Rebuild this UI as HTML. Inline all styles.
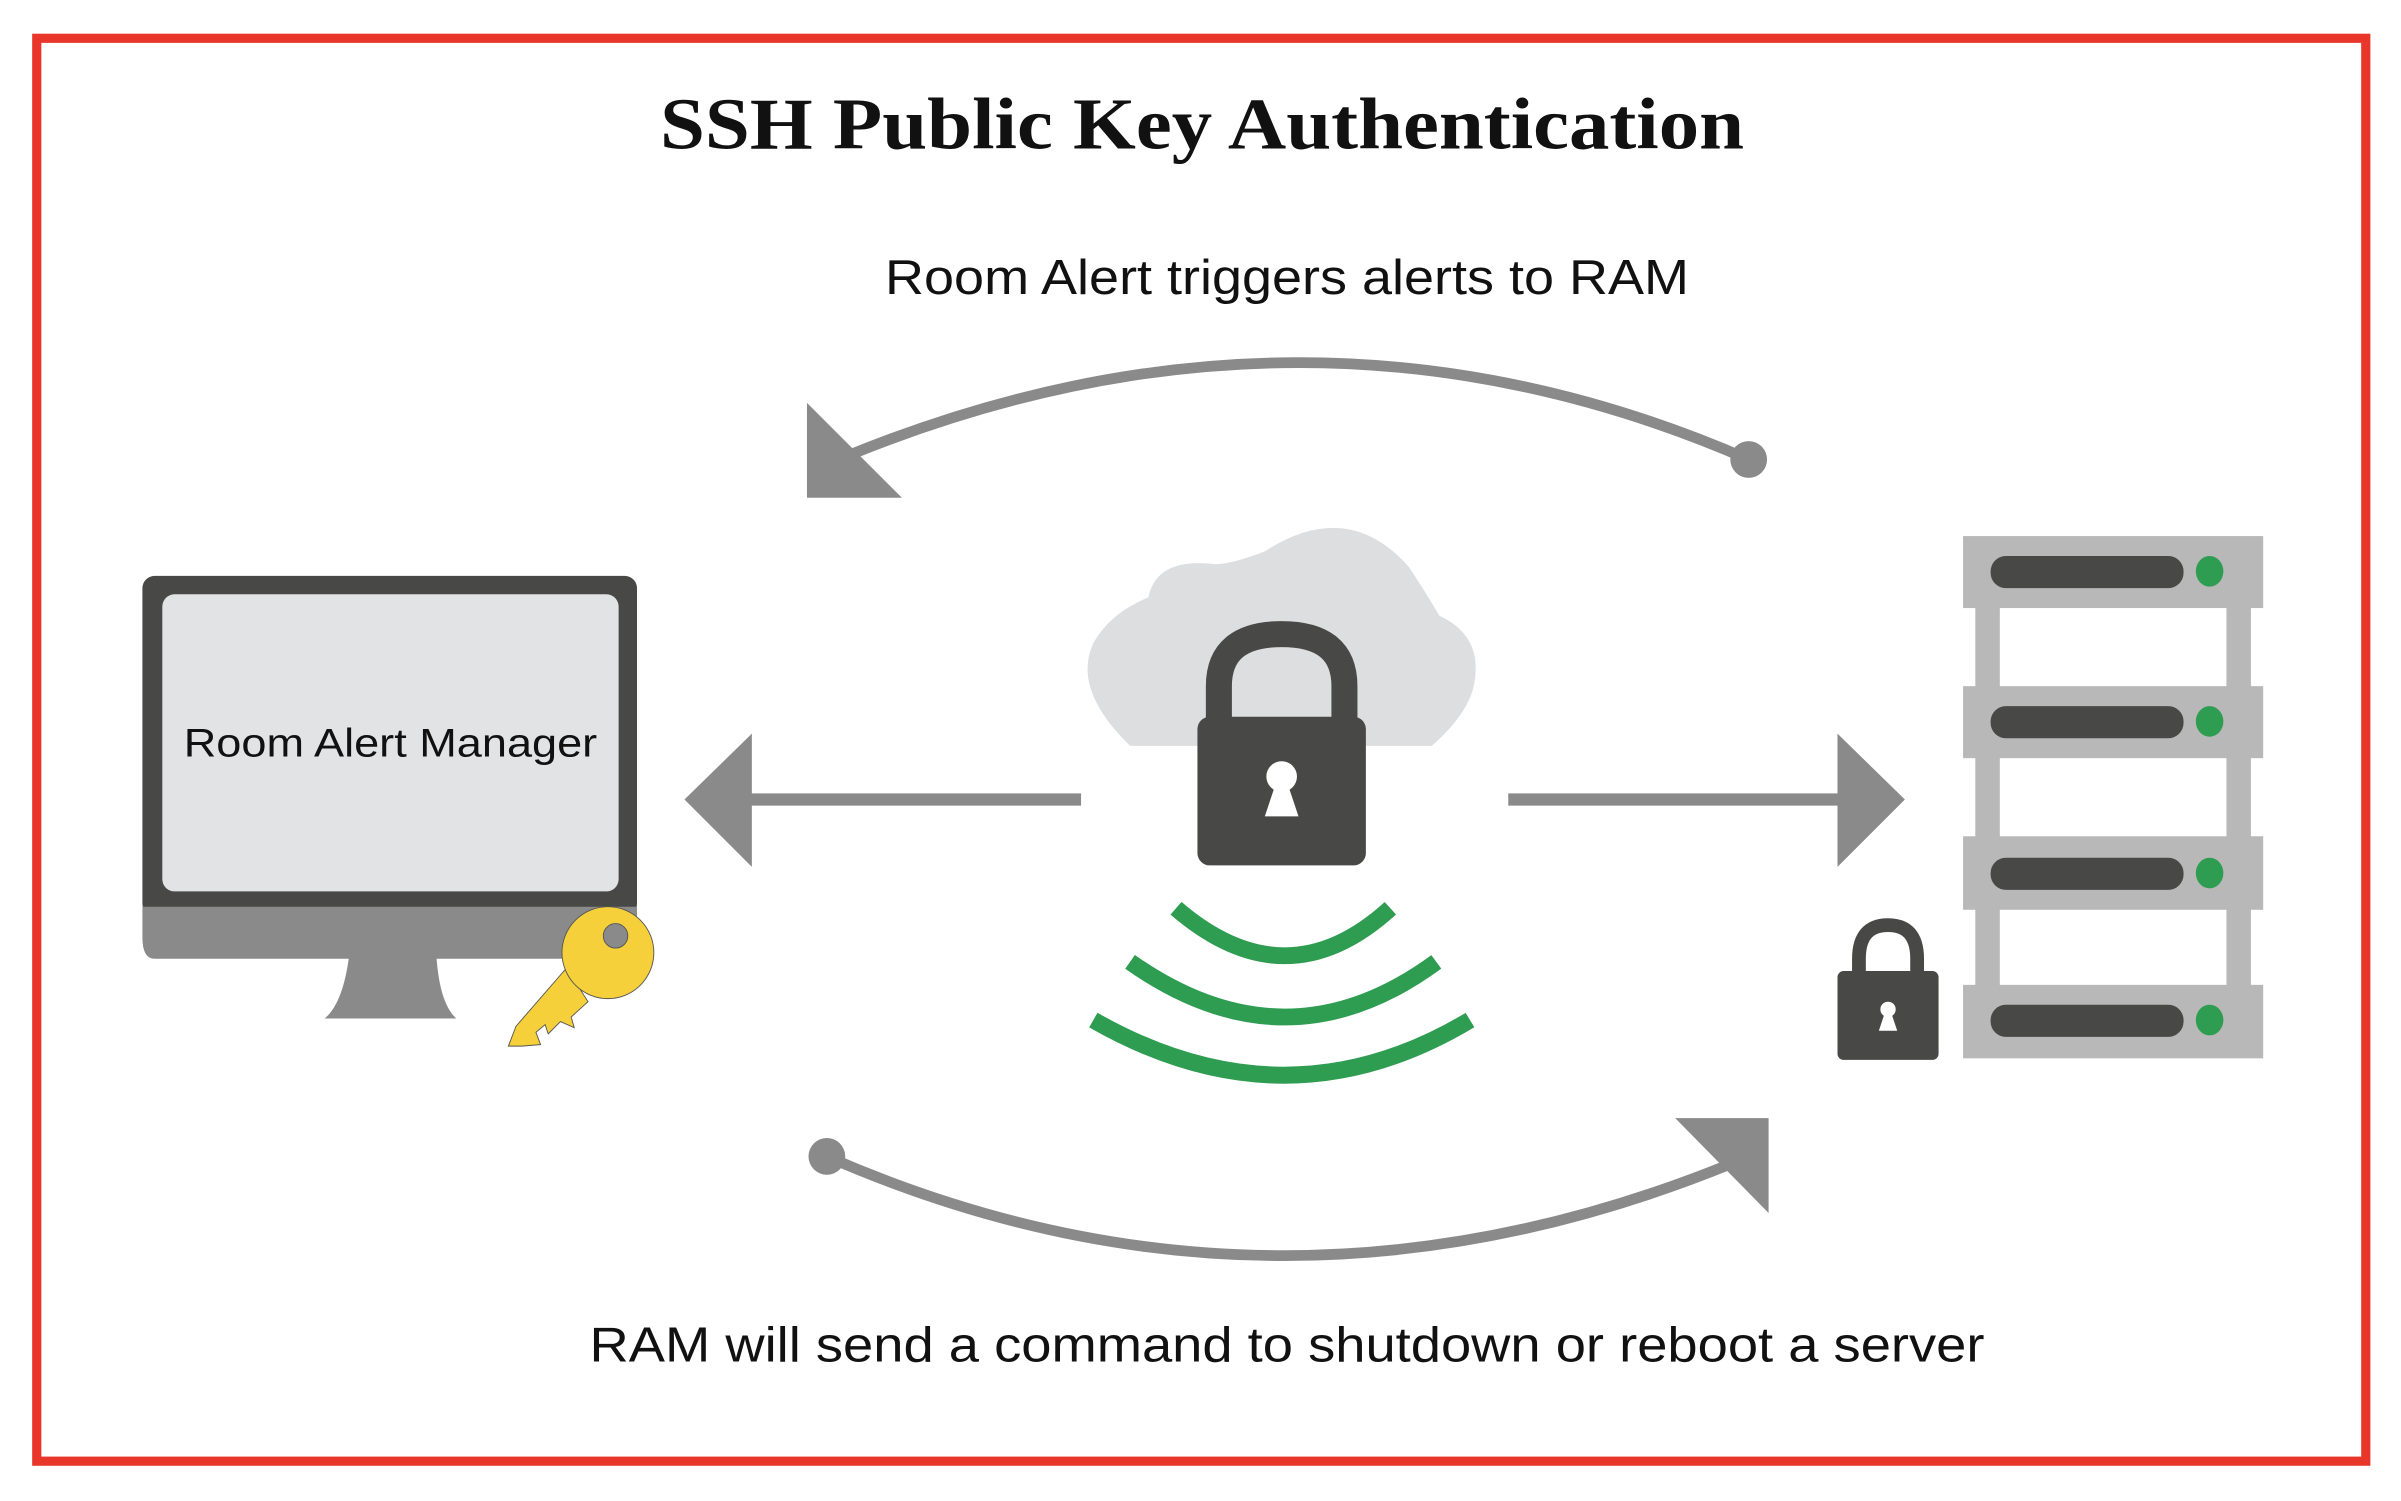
<!DOCTYPE html>
<html><head><meta charset="utf-8"><style>
html,body{margin:0;padding:0;background:#fff;}
svg{display:block;}
</style></head><body>
<svg width="2401" height="1501" viewBox="0 0 1568 980" preserveAspectRatio="none" xmlns="http://www.w3.org/2000/svg">
<rect x="0" y="0" width="1568" height="980" fill="#fff"/>
<rect x="24" y="25" width="1521" height="929" fill="none" stroke="#e8372a" stroke-width="6"/>
<text x="431" y="97" textLength="708" lengthAdjust="spacingAndGlyphs" font-family="Liberation Serif, serif" font-weight="bold" font-size="48" fill="#111">SSH Public Key Authentication</text>
<text x="578" y="192" textLength="525" lengthAdjust="spacingAndGlyphs" font-family="Liberation Sans, sans-serif" font-size="32" fill="#111">Room Alert triggers alerts to RAM</text>
<text x="385" y="889" textLength="911" lengthAdjust="spacingAndGlyphs" font-family="Liberation Sans, sans-serif" font-size="32" fill="#111">RAM will send a command to shutdown or reboot a server</text>

<!-- top arc -->
<path d="M1142 300 Q855 175 555 297" fill="none" stroke="#8a8a8a" stroke-width="7"/>
<circle cx="1142" cy="300" r="12" fill="#8a8a8a"/>
<polygon points="527,263 527,325 589,325" fill="#8a8a8a"/>
<!-- bottom arc -->
<path d="M540 755 Q830 882 1130 760" fill="none" stroke="#8a8a8a" stroke-width="7"/>
<circle cx="540" cy="755" r="12" fill="#8a8a8a"/>
<polygon points="1094,730 1155,730 1155,792" fill="#8a8a8a"/>
<!-- horizontal arrows -->
<rect x="488" y="518" width="218" height="8" fill="#8a8a8a"/>
<polygon points="447,522 491,479 491,566" fill="#8a8a8a"/>
<rect x="985" y="518" width="217" height="8" fill="#8a8a8a"/>
<polygon points="1244,522 1200,479 1200,566" fill="#8a8a8a"/>

<!-- monitor -->
<rect x="93" y="376" width="323" height="222" rx="8" fill="#484846"/>
<rect x="106" y="388" width="298" height="194" rx="8" fill="#e2e3e5"/>
<path d="M93 592 H416 V618 Q416 626 408 626 H101 Q93 626 93 612 Z" fill="#8a8a8a"/>
<path d="M228 624 H285 Q287 655 298 665 H212 Q224 655 228 624 Z" fill="#8a8a8a"/>
<text x="120" y="494" textLength="270" lengthAdjust="spacingAndGlyphs" font-family="Liberation Sans, sans-serif" font-size="26" fill="#111">Room Alert Manager</text>
<!-- key -->
<path d="M384 654 L373 664 L375 671 L366 667 L358 675 L356 669 L350 674 L353 682 L341 683 L332 683 L337 670 L370 632 Z" fill="#f5d03a" stroke="#555" stroke-width="0.6"/>
<circle cx="397" cy="622" r="30" fill="#f5d03a" stroke="#555" stroke-width="0.6"/>
<circle cx="402" cy="611" r="8" fill="#8a8a8a" stroke="#555" stroke-width="0.6"/>

<!-- cloud -->
<path d="M738 487 Q700 450 714 420 Q725 400 750 390 Q755 365 790 368 Q800 370 826 360 Q880 325 920 370 Q930 385 940 402 Q968 415 963 445 Q960 465 935 487 Z" fill="#dddee0"/>
<!-- padlock -->
<path d="M796 470 V448 Q796 414 837 414 Q878 414 878 448 V470" fill="none" stroke="#484846" stroke-width="17"/>
<rect x="782" y="468" width="110" height="97" rx="8" fill="#484846"/>
<circle cx="837" cy="507" r="10" fill="#fff"/>
<polygon points="833,512 841,512 848,533 826,533" fill="#fff"/>
<!-- waves -->
<path d="M768 593 Q840 655 908 593" fill="none" stroke="#2e9c51" stroke-width="11"/>
<path d="M738 628 Q840 700 938 628" fill="none" stroke="#2e9c51" stroke-width="11"/>
<path d="M714 666 Q840 738 960 666" fill="none" stroke="#2e9c51" stroke-width="11"/>

<!-- server rack -->
<rect x="1290" y="395" width="16" height="255" fill="#b8b8b8"/>
<rect x="1454" y="395" width="16" height="255" fill="#b8b8b8"/>
<g fill="#b8b8b8">
<rect x="1282" y="350" width="196" height="47"/>
<rect x="1282" y="448" width="196" height="47"/>
<rect x="1282" y="546" width="196" height="48"/>
<rect x="1282" y="643" width="196" height="48"/>
</g>
<g fill="#484846">
<rect x="1300" y="363" width="126" height="21" rx="10"/>
<rect x="1300" y="461" width="126" height="21" rx="10"/>
<rect x="1300" y="560" width="126" height="21" rx="10"/>
<rect x="1300" y="656" width="126" height="21" rx="10"/>
</g>
<g fill="#2e9c51">
<ellipse cx="1443" cy="373" rx="9" ry="10"/>
<ellipse cx="1443" cy="471" rx="9" ry="10"/>
<ellipse cx="1443" cy="570" rx="9" ry="10"/>
<ellipse cx="1443" cy="666" rx="9" ry="10"/>
</g>
<!-- small padlock -->
<path d="M1214 636 V626 Q1214 604 1233 604 Q1252 604 1252 626 V636" fill="none" stroke="#484846" stroke-width="9"/>
<rect x="1200" y="634" width="66" height="58" rx="4" fill="#484846"/>
<circle cx="1233" cy="659" r="5" fill="#fff"/>
<polygon points="1231,661 1235,661 1239,673 1227,673" fill="#fff"/>
</svg>
</body></html>
